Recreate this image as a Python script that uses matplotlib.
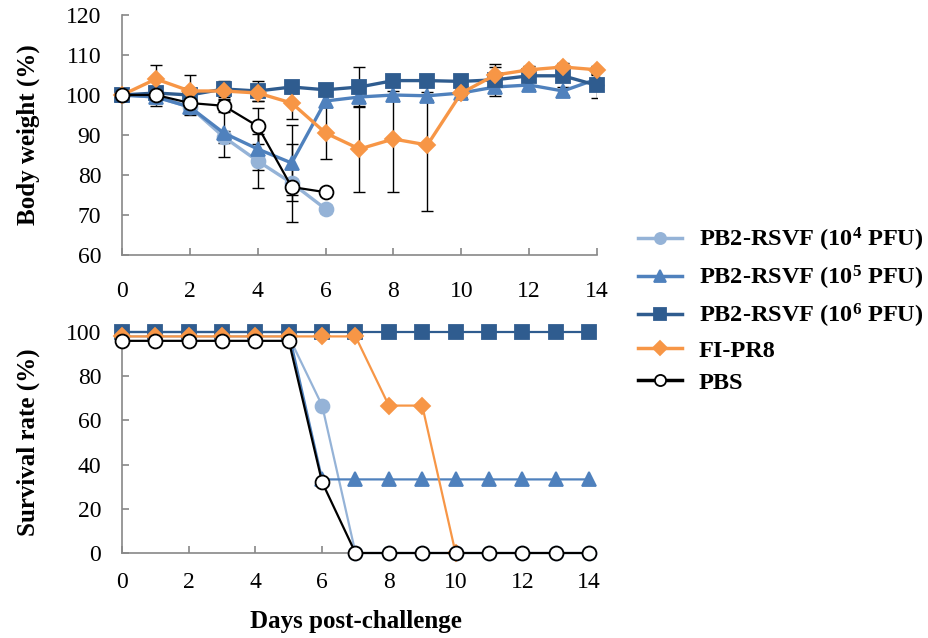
import matplotlib
matplotlib.use("Agg")
import matplotlib.pyplot as plt
import numpy as np

nan = np.nan

# Data
days = list(range(15))
labels = ["PB2-RSVF (10$^{4}$ PFU)", "PB2-RSVF (10$^{5}$ PFU)", "PB2-RSVF (10$^{6}$ PFU)", "FI-PR8", "PBS"]

# body weight (%)
bw_1e4 = [100, 99.5, 97, 89.5, 83.5, 78, 71.5, nan, nan, nan, nan, nan, nan, nan, nan]
bw_1e5 = [100, 99.5, 97, 90.5, 86.5, 83, 98.5, 99.5, 100, 99.8, 100.5, 102, 102.5, 101, 104]
bw_1e6 = [100, 100.5, 100, 101.5, 101, 102, 101.3, 102, 103.6, 103.6, 103.4, 103.8, 104.8, 104.8, 102.4]
bw_fi = [100, 104, 101, 101, 100.5, 98, 90.5, 86.5, 89, 87.5, 100.5, 105, 106.3, 107, 106.3]
bw_pbs = [100, 100, 98, 97.3, 92.2, 77, 75.7, nan, nan, nan, nan, nan, nan, nan, nan]

# standard deviations
sd_1e4 = [0, 2.2, 2, 1.5, 6.7, 9.7, 1, 0, 0, 0, 0, 0, 0, 0, 0]
sd_1e5 = [0, 1, 1.5, 6, 5.2, 9.5, 1.5, 1, 1, 1, 1, 1, 1, 1, 1]
sd_1e6 = [0, 1, 1, 2, 2.5, 1.5, 1, 5, 1, 1, 1, 4, 1, 1, 3.2]
sd_fi = [0, 3.5, 4, 2, 2, 4, 6.5, 10.7, 13.2, 16.5, 0.5, 2, 1, 1, 1]
sd_pbs = [0, 0.5, 2.7, 1.5, 4.5, 2, 1, 0, 0, 0, 0, 0, 0, 0, 0]

# survival rate (%)
sv_1e4 = [98, 98, 98, 98, 98, 98, 66.7, 0, 0, 0, 0, 0, 0, 0, 0]
sv_1e5 = [100, 100, 100, 100, 100, 100, 33.3, 33.3, 33.3, 33.3, 33.3, 33.3, 33.3, 33.3, 33.3]
sv_1e6 = [100] * 15
sv_fi = [98, 98, 98, 98, 98, 98, 98, 98, 66.7, 66.7, 0, nan, nan, nan, nan]
sv_pbs = [96, 96, 96, 96, 96, 96, 32, 0, 0, 0, 0, 0, 0, 0, 0]

colors = ["#95b3d7", "#4f81bd", "#2f5c8f", "#f79646", "black"]
markers = ["o", "^", "s", "D", "o"]

plt.rcParams["font.family"] = ["Liberation Serif", "DejaVu Serif"]
plt.rcParams["mathtext.fontset"] = "custom"
plt.rcParams["mathtext.rm"] = "Liberation Serif:bold"
plt.rcParams["mathtext.bf"] = "Liberation Serif:bold"
plt.rcParams["mathtext.default"] = "bf"

fig = plt.figure(figsize=(9.29, 6.38), dpi=100)
ax1 = fig.add_axes([122/929, 1-255/638, 475/929, 240/638])
ax2 = fig.add_axes([122/929, 1-553/638, 467/929, 221/638])

def style(ax):
    for s in ["top", "right"]:
        ax.spines[s].set_visible(False)
    for s in ["left", "bottom"]:
        ax.spines[s].set_color("#888888")
        ax.spines[s].set_linewidth(1.2)
    ax.set_xlim(0, 14)
    ax.set_xticks(range(0, 15, 2))
    ax.tick_params(direction="in", length=5, width=1.2, color="#888888", labelsize=17)

# --- body weight
bw = [bw_1e4, bw_1e5, bw_1e6, bw_fi, bw_pbs]
sd = [sd_1e4, sd_1e5, sd_1e6, sd_fi, sd_pbs]
for i in range(5):
    ax1.errorbar(days, bw[i], yerr=sd[i], fmt="none", ecolor="black", elinewidth=1, capsize=4, capthick=1, zorder=1)
for i in range(5):
    mfc = "white" if i == 4 else colors[i]
    lw = 1.6 if i == 4 else 2.4
    ms = 8 if markers[i] == "D" else 10
    ax1.plot(days, bw[i], marker=markers[i], color=colors[i], mfc=mfc, mec=colors[i], lw=lw, ms=ms,
             mew=1.3, zorder=2+i, clip_on=False)
style(ax1)
ax1.set_ylim(60, 120)
ax1.set_yticks(range(60, 121, 10))
ax1.tick_params(axis="y", pad=15)
ax1.tick_params(axis="x", pad=19)
ax1.set_ylabel("Body weight (%)", fontsize=18, fontweight="bold")
ax1.yaxis.set_label_coords((40-122)/475, 0.5)

# --- survival
sv = [sv_1e4, sv_1e5, sv_1e6, sv_fi, sv_pbs]
for i in range(5):
    mfc = "white" if i == 4 else colors[i]
    ms = 8 if markers[i] == "D" else 10
    ax2.plot(days, sv[i], marker=markers[i], color=colors[i], mfc=mfc, mec=colors[i], lw=1.6, ms=ms,
             mew=1.3, zorder=2+i, clip_on=False)
style(ax2)
ax2.set_ylim(0, 100)
ax2.set_yticks(range(0, 101, 20))
ax2.tick_params(axis="y", pad=15)
ax2.tick_params(axis="x", pad=14)
ax2.set_ylabel("Survival rate (%)", fontsize=18, fontweight="bold")
ax2.yaxis.set_label_coords((40-122)/467, 0.5)
ax2.set_xlabel("Days post-challenge", fontsize=18, fontweight="bold", labelpad=12)

# legend
leg_handles = []
for i in range(5):
    mfc = "white" if i == 4 else colors[i]
    h, = ax2.plot([], [], marker=markers[i], color=colors[i], mfc=mfc, mec=colors[i], lw=2.5,
                  ms=8 if i != 3 else 7, mew=1.3)
    leg_handles.append(h)
fig.legend(leg_handles, labels, loc="center left", bbox_to_anchor=(638/929, 1-310/638), frameon=False,
           borderpad=0, borderaxespad=0, handlelength=1.8, handletextpad=0.7, labelspacing=0.4,
           prop={"size": 17.5, "weight": "bold"})

fig.savefig("out.png", dpi=100)
